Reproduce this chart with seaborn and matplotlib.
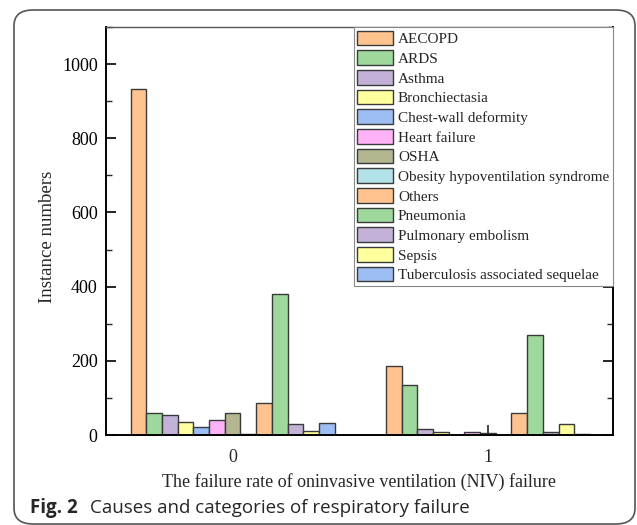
import matplotlib
matplotlib.use("Agg")
import matplotlib.pyplot as plt
from matplotlib.patches import FancyBboxPatch
from matplotlib.ticker import MultipleLocator
import seaborn as sns
import pandas as pd

groups = ["0", "1"]
causes = ["AECOPD", "ARDS", "Asthma", "Bronchiectasia", "Chest-wall deformity",
          "Heart failure", "OSHA", "Obesity hypoventilation syndrome", "Others",
          "Pneumonia", "Pulmonary embolism", "Sepsis", "Tuberculosis associated sequelae"]
counts_0 = [933, 60, 55, 34, 21, 40, 58, 4, 85, 380, 31, 12, 33]
counts_1 = [187, 135, 15, 9, 0, 9, 6, 1, 58, 270, 7, 30, 4]
colors = ["#FFC38F", "#9ED89C", "#C2B2D8", "#FFFF9E", "#9DBEF5", "#FFB3F7",
          "#B4B68F", "#B3E3E8", "#FFC38F", "#9ED89C", "#C2B2D8", "#FFFF9E", "#9DBEF5"]

rows = []
for g, vals in zip(groups, [counts_0, counts_1]):
    for c, v in zip(causes, vals):
        rows.append({"group": g, "cause": c, "count": v})
df = pd.DataFrame(rows)

sns.set_style("ticks")
plt.rcParams["font.family"] = ["Liberation Serif", "DejaVu Serif"]

fig = plt.figure(figsize=(6.37, 5.25), dpi=100)
ax = fig.add_axes([106/637, 1-435/525, (613-106)/637, (435-27)/525])

sns.barplot(data=df, x="group", y="count", hue="cause", hue_order=causes,
            palette=dict(zip(causes, colors)), order=groups, width=0.8,
            saturation=1, edgecolor="#3a3a3a", linewidth=1.0, ax=ax, errorbar=None)

ax.set_ylim(0, 1100)
ax.set_xlim(-0.496, 1.49)
ax.yaxis.set_major_locator(MultipleLocator(200))
ax.yaxis.set_minor_locator(MultipleLocator(100))
ax.tick_params(axis="y", which="major", direction="in", length=7, width=1.2,
               right=True, labelsize=13, colors="black", pad=6)
ax.tick_params(axis="y", which="minor", direction="in", length=4, width=1.0, right=True)
ax.tick_params(axis="x", which="major", direction="in", length=7, width=1.2,
               labelsize=13, pad=10)
for s in ax.spines.values():
    s.set_visible(True)
    s.set_linewidth(1.4)
    s.set_color("black")
ax.spines["top"].set_linewidth(1.0)
ax.spines["top"].set_color("#555555")

ax.set_xlabel("The failure rate of oninvasive ventilation (NIV) failure", fontsize=13, labelpad=5)
ax.set_ylabel("Instance numbers", fontsize=13.5)
ax.yaxis.set_label_coords(-0.099, 0.4865)

leg = ax.legend(loc="upper right", bbox_to_anchor=(1.0, 1.0), fontsize=11,
                frameon=True, fancybox=False, edgecolor="#888888", framealpha=1,
                handlelength=2.3, handleheight=1.1, labelspacing=0.27,
                handletextpad=0.35, borderpad=0.25, borderaxespad=0.0)
leg.get_frame().set_linewidth(0.8)
for h in leg.legend_handles:
    h.set_edgecolor("#3a3a3a")
    h.set_linewidth(1.0)

border = FancyBboxPatch((14/637, 1-524/525), (635-14)/637, (524-10)/525,
                        boxstyle="round,pad=0,rounding_size=0.03",
                        transform=fig.transFigure, facecolor="none",
                        edgecolor="#555555", linewidth=1.2, clip_on=False)
fig.patches.append(border)

fig.text(30/637, 1-508/525, "Fig. 2", fontsize=13.5, fontweight="bold",
         family=["Open Sans", "DejaVu Sans"], va="center", ha="left")
fig.text(90/637, 1-508/525, "Causes and categories of respiratory failure", fontsize=13.5,
         family=["Open Sans", "DejaVu Sans"], va="center", ha="left")

fig.savefig("out.png", dpi=100)
